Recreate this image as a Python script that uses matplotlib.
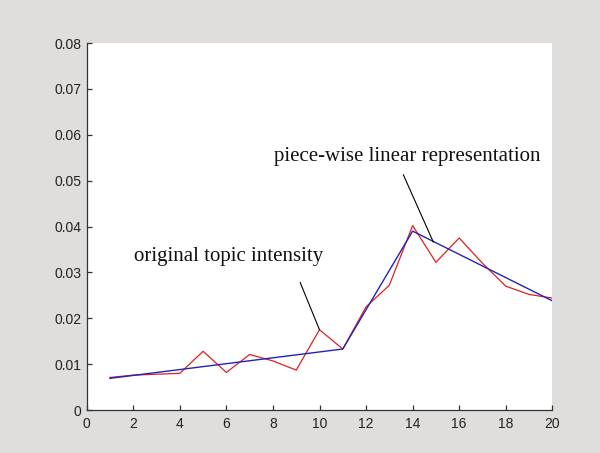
import matplotlib
matplotlib.use("Agg")
import matplotlib.pyplot as plt

# topic intensity per time slot
x = list(range(1, 21))
intensity = [0.0071, 0.0076, 0.0078, 0.0080, 0.0128, 0.0082, 0.0121, 0.0107,
             0.0087, 0.0175, 0.0133, 0.0225, 0.0272, 0.0402, 0.0322, 0.0375,
             0.0320, 0.0270, 0.0252, 0.0244]

# piece-wise linear fit (knots)
knot_x = [1, 11, 14, 20]
knot_y = [0.0069, 0.0133, 0.0390, 0.0238]

xticks = list(range(0, 21, 2))
yticks = [0, 0.01, 0.02, 0.03, 0.04, 0.05, 0.06, 0.07, 0.08]
ytick_labels = ["0", "0.01", "0.02", "0.03", "0.04", "0.05", "0.06", "0.07", "0.08"]

bg = "#dfdedd"
axis_col = "#333333"

fig = plt.figure(figsize=(6, 4.53), dpi=100, facecolor=bg)
ax = fig.add_axes([0.1445, 0.0949, 0.776, 0.8101])
ax.set_facecolor("white")

ax.plot(x, intensity, color="#e02020", lw=0.9)
ax.plot(knot_x, knot_y, color="#2222bb", lw=1.0)

ax.set_xlim(0, 20)
ax.set_ylim(0, 0.08)
ax.set_xticks(xticks)
ax.set_yticks(yticks)
ax.set_yticklabels(ytick_labels)

# matlab-ish axes: box off, ticks inside
for s in ["top", "right"]:
    ax.spines[s].set_visible(False)
for s in ["left", "bottom"]:
    ax.spines[s].set_color(axis_col)
    ax.spines[s].set_linewidth(0.9)
ax.tick_params(direction="in", length=3.5, width=0.9, color=axis_col,
               labelcolor="#222222", labelsize=10)
ax.tick_params(axis="x", pad=5)
ax.tick_params(axis="y", pad=4)
for lab in ax.get_xticklabels() + ax.get_yticklabels():
    lab.set_family("Liberation Sans")

serif = "Liberation Serif"
ax.text(6.11, 0.0324, "original topic intensity", ha="center", va="baseline",
        fontsize=15, family=serif, color="#111111")
ax.annotate("", xy=(10, intensity[9]), xytext=(9.17, 0.0278),
            arrowprops=dict(arrowstyle="-", lw=0.8, color="black",
                            shrinkA=0, shrinkB=0))

ax.text(13.75, 0.0543, "piece-wise linear representation", ha="center",
        va="baseline", fontsize=15, family=serif, color="#111111")
ax.annotate("", xy=(14.89, 0.0366), xytext=(13.6, 0.0513),
            arrowprops=dict(arrowstyle="-", lw=0.8, color="black",
                            shrinkA=0, shrinkB=0))

plt.savefig("out.png", dpi=100, facecolor=bg)
